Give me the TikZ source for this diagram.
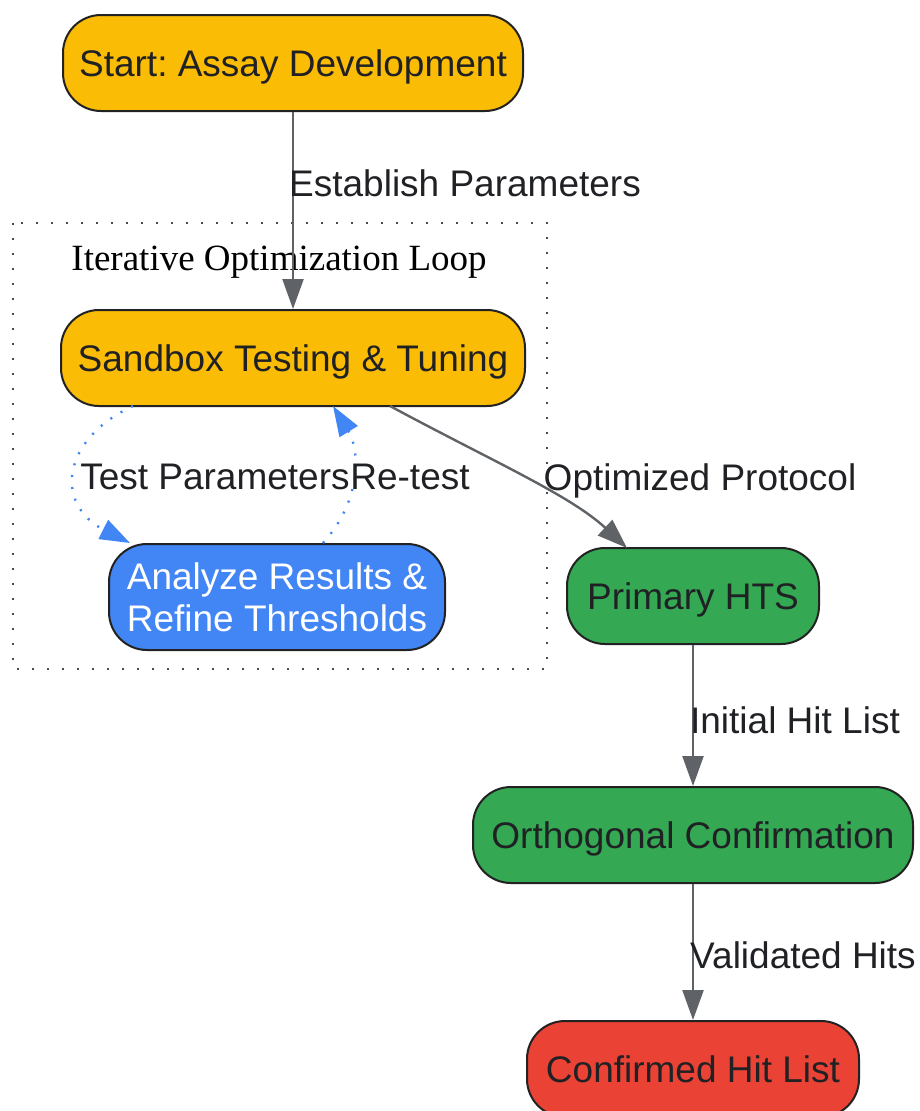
\documentclass[tikz,border=0pt]{standalone}
\usepackage{fontspec}
\setmainfont{Liberation Sans}
\newfontfamily\seriffont{Liberation Serif}
\usetikzlibrary{arrows.meta}
\frenchspacing
\definecolor{gyellow}{HTML}{FBBC05}
\definecolor{gblue}{HTML}{4285F4}
\definecolor{ggreen}{HTML}{34A853}
\definecolor{gred}{HTML}{EA4335}
\definecolor{edgegray}{HTML}{5F6368}
\definecolor{txt}{HTML}{202124}
\definecolor{border}{HTML}{222222}
\tikzset{
  x=1pt, y=-1pt,
  box/.style={draw=border, line width=2pt, rounded corners=38pt, inner sep=0pt, align=center,
    font=\frenchspacing\fontsize{37}{42}\selectfont, text=txt, text depth=0pt},
  flow/.style={draw=edgegray, line width=2.4pt, -{Triangle[length=30pt,width=21pt]}},
  loopedge/.style={draw=gblue, line width=2.4pt, dash pattern=on 2pt off 10pt,
    -{Triangle[length=30pt,width=21pt]}},
  elabel/.style={font=\frenchspacing\fontsize{37}{42}\selectfont, text=txt, inner sep=0pt, text depth=0pt},
}
\begin{document}
\begin{tikzpicture}
\useasboundingbox (0,0) rectangle (919,1111);
% cluster
\draw[draw=black!70, line width=2.6pt, dash pattern=on 2pt off 13pt] (13,223) rectangle (547,669);
\node[font=\seriffont\fontsize{37}{42}\selectfont, text=black, inner sep=0pt, text depth=0pt] (ctitle) at (279,258) {Iterative Optimization Loop};
% nodes
\node[box, fill=gyellow, minimum width=460pt, minimum height=96pt] (start) at (293,63) {Start: Assay Development};
\node[box, fill=gyellow, minimum width=464pt, minimum height=96pt] (sandbox) at (293,358) {Sandbox Testing \& Tuning};
\node[box, fill=gblue, text=white, minimum width=336pt, minimum height=106pt, text depth=] (analyze) at (277,597) {Analyze Results \&\\Refine Thresholds};
\node[box, fill=ggreen, minimum width=252pt, minimum height=96pt] (primary) at (693,596) {Primary HTS};
\node[box, fill=ggreen, minimum width=440pt, minimum height=96pt] (ortho) at (693,835) {Orthogonal Confirmation};
\node[box, fill=gred, minimum width=332pt, minimum height=96pt] (confirmed) at (693,1069) {Confirmed Hit List};
% edges
\draw[flow] (start.south) -- (sandbox.north);
\node[elabel] (l1) at (465,183) {Establish Parameters};
\coordinate (s1) at (390,406);
\coordinate (p1) at (627,548);
\draw[flow] (s1) .. controls (490,460) and (570,495) .. (p1);
\node[elabel] (l2) at (700,477) {Optimized Protocol};
\coordinate (s2) at (133,406);
\coordinate (a2) at (130,543);
\draw[loopedge] (s2) .. controls (60,440) and (55,505) .. (a2);
\node[elabel] (l3) at (215,477) {Test Parameters};
\coordinate (a3) at (323,543);
\coordinate (s3) at (333,406);
\draw[loopedge] (a3) .. controls (362,500) and (360,450) .. (s3);
\node[elabel] (l4) at (410,477) {Re-test};
\draw[flow] (primary.south) -- (ortho.north);
\node[elabel] (l5) at (795,720) {Initial Hit List};
\draw[flow] (ortho.south) -- (confirmed.north);
\node[elabel] (l6) at (803,955) {Validated Hits};
\end{tikzpicture}
\end{document}
